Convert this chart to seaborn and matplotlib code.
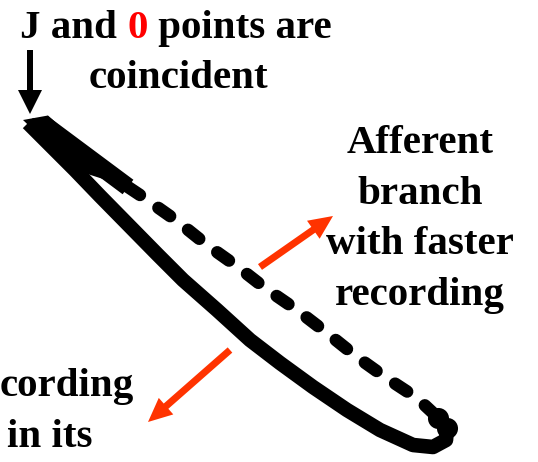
import matplotlib
matplotlib.use("Agg")
import matplotlib.pyplot as plt
import seaborn as sns
import pandas as pd

# Efferent branch (solid): from the J point down to the bottom turn of the loop
efferent_x = [28, 75, 100, 158, 183, 217, 250, 280, 313, 347, 380, 413, 433, 446, 447, 438]
efferent_y = [123, 170, 196, 255, 280, 310, 340, 363, 387, 410, 430, 445, 447, 440, 428, 418]

# Afferent branch: merged with the efferent one near J, then dashed back to the turn
merged_x = [42, 128]
merged_y = [123, 187]
afferent_x = [128, 143, 177, 207, 238, 265, 297, 327, 357, 385, 417, 432, 438]
afferent_y = [187, 197, 221, 245, 267, 288, 310, 333, 357, 377, 398, 412, 418]

# Outer corners of the common trace at the J point
j_corner_x = [23, 48]
j_corner_y = [120, 115.5]

W, H = 538, 462
sns.set_theme(style="white")
plt.rcParams["font.family"] = ["Liberation Serif", "DejaVu Serif"]

fig = plt.figure(figsize=(W / 100, H / 100), dpi=100)
ax = fig.add_axes([0, 0, 1, 1])

efferent = pd.DataFrame({"x": efferent_x, "y": efferent_y})
merged = pd.DataFrame({"x": merged_x, "y": merged_y})
afferent = pd.DataFrame({"x": afferent_x, "y": afferent_y})

# Where the two branches overlap near J the trace is one solid band
band_x = [j_corner_x[0], efferent_x[1], merged_x[1], j_corner_x[1]]
band_y = [j_corner_y[0], efferent_y[1], merged_y[1], j_corner_y[1]]
ax.fill(band_x, band_y, color="black", linewidth=0)

sns.lineplot(data=efferent, x="x", y="y", sort=False, estimator=None,
             color="black", linewidth=10.5, ax=ax, solid_capstyle="butt",
             solid_joinstyle="round")
sns.lineplot(data=merged, x="x", y="y", sort=False, estimator=None,
             color="black", linewidth=13, ax=ax, solid_capstyle="butt")
sns.lineplot(data=afferent, x="x", y="y", sort=False, estimator=None,
             color="black", linewidth=9, ax=ax)
dash_line = ax.lines[-1]
dash_line.set_dashes((1.15, 1.8))
dash_line.set_dash_capstyle("round")

# Rounded end of the loop where both branches meet
sns.scatterplot(x=efferent_x[-2:], y=efferent_y[-2:], s=230, color="black",
                linewidth=0, ax=ax)

ax.set_xlim(0, W)
ax.set_ylim(H, 0)
ax.set_axis_off()

bold = dict(fontsize=29.5, fontweight="bold", va="baseline")

# Title over the J point, with the red "0"
fig.canvas.draw()
renderer = fig.canvas.get_renderer()
x = 20
for part, col in [("J and ", "black"), ("0", "#ff0000"), (" points are", "black")]:
    t = ax.text(x, 38, part, color=col, ha="left", **bold)
    bb = t.get_window_extent(renderer).transformed(ax.transData.inverted())
    x = bb.x1
ax.text(178, 88, "coincident", color="black", ha="center", **bold)

for i, line in enumerate(["Afferent", "branch", "with faster", "recording"]):
    ax.text(420, 153 + 50.5 * i, line, color="black", ha="center", **bold)

ax.text(0, 396, "cording", color="black", ha="left", **bold)
ax.text(7, 447, "in its", color="black", ha="left", **bold)

# Arrows
ax.arrow(30, 50, 0, 64, width=6, head_width=24, head_length=24,
         length_includes_head=True, color="black", linewidth=0)
ax.arrow(260, 267, 73, -51, width=7, head_width=22, head_length=24,
         length_includes_head=True, color="#ff3300", linewidth=0)
ax.arrow(230, 350, -82, 72, width=7, head_width=22, head_length=24,
         length_includes_head=True, color="#ff3300", linewidth=0)

fig.savefig("out.png", dpi=100, facecolor="white")
